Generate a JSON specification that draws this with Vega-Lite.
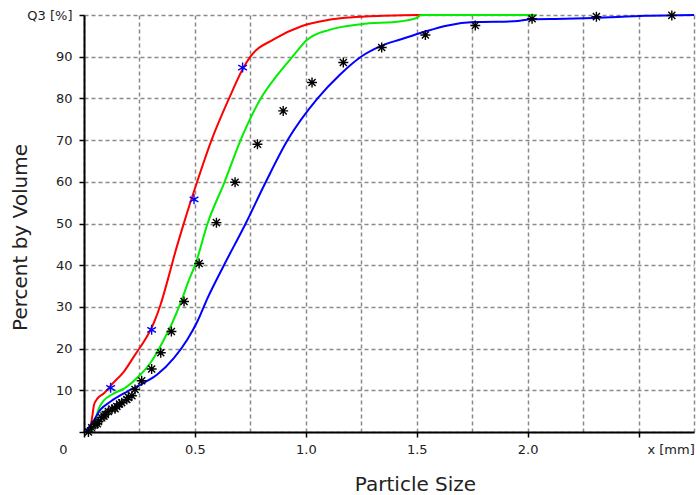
{
  "$schema": "https://vega.github.io/schema/vega-lite/v6.json",
  "width": 610,
  "height": 417,
  "autosize": "none",
  "padding": {"left": 84, "top": 15, "right": 2, "bottom": 63},
  "background": "white",
  "config": {"view": {"stroke": null}, "font": "DejaVu Sans"},
  "datasets": {
    "curves": [
      {"series": "red", "size": 0.015, "q": 0}, {"series": "red", "size": 0.03, "q": 1.5}, {"series": "red", "size": 0.038, "q": 4}, {"series": "red", "size": 0.045, "q": 6.5}, {"series": "red", "size": 0.06, "q": 8}, {"series": "red", "size": 0.09, "q": 9.3}, {"series": "red", "size": 0.127, "q": 11.5}, {"series": "red", "size": 0.18, "q": 14.5}, {"series": "red", "size": 0.23, "q": 18.5}, {"series": "red", "size": 0.285, "q": 23}, {"series": "red", "size": 0.315, "q": 26.2}, {"series": "red", "size": 0.345, "q": 30.5}, {"series": "red", "size": 0.375, "q": 36}, {"series": "red", "size": 0.406, "q": 42.1}, {"series": "red", "size": 0.451, "q": 50.2}, {"series": "red", "size": 0.51, "q": 60}, {"series": "red", "size": 0.575, "q": 70}, {"series": "red", "size": 0.654, "q": 80}, {"series": "red", "size": 0.715, "q": 87}, {"series": "red", "size": 0.75, "q": 90}, {"series": "red", "size": 0.857, "q": 94.2}, {"series": "red", "size": 0.98, "q": 97.3}, {"series": "red", "size": 1.1, "q": 98.8}, {"series": "red", "size": 1.2, "q": 99.4}, {"series": "red", "size": 1.35, "q": 99.8}, {"series": "red", "size": 1.5, "q": 100}, {"series": "red", "size": 2.04, "q": 100},
      {"series": "green", "size": 0.03, "q": 0}, {"series": "green", "size": 0.043, "q": 1.3}, {"series": "green", "size": 0.055, "q": 3.5}, {"series": "green", "size": 0.065, "q": 5.4}, {"series": "green", "size": 0.088, "q": 7.5}, {"series": "green", "size": 0.126, "q": 9}, {"series": "green", "size": 0.186, "q": 10.6}, {"series": "green", "size": 0.246, "q": 13.3}, {"series": "green", "size": 0.3, "q": 16.6}, {"series": "green", "size": 0.353, "q": 21.4}, {"series": "green", "size": 0.398, "q": 26.2}, {"series": "green", "size": 0.436, "q": 31}, {"series": "green", "size": 0.47, "q": 36}, {"series": "green", "size": 0.504, "q": 40.5}, {"series": "green", "size": 0.557, "q": 50}, {"series": "green", "size": 0.634, "q": 60}, {"series": "green", "size": 0.706, "q": 70}, {"series": "green", "size": 0.797, "q": 80}, {"series": "green", "size": 0.87, "q": 85.5}, {"series": "green", "size": 0.94, "q": 90}, {"series": "green", "size": 1.005, "q": 94}, {"series": "green", "size": 1.11, "q": 96.5}, {"series": "green", "size": 1.25, "q": 97.8}, {"series": "green", "size": 1.43, "q": 98.5}, {"series": "green", "size": 1.5, "q": 99.3}, {"series": "green", "size": 1.52, "q": 100}, {"series": "green", "size": 2.04, "q": 100},
      {"series": "blue", "size": 0.005, "q": 0}, {"series": "blue", "size": 0.037, "q": 2.2}, {"series": "blue", "size": 0.075, "q": 5.4}, {"series": "blue", "size": 0.12, "q": 7.3}, {"series": "blue", "size": 0.195, "q": 9.7}, {"series": "blue", "size": 0.27, "q": 11.8}, {"series": "blue", "size": 0.33, "q": 13.8}, {"series": "blue", "size": 0.406, "q": 17.8}, {"series": "blue", "size": 0.466, "q": 22.2}, {"series": "blue", "size": 0.511, "q": 26.5}, {"series": "blue", "size": 0.556, "q": 32}, {"series": "blue", "size": 0.631, "q": 40}, {"series": "blue", "size": 0.729, "q": 50}, {"series": "blue", "size": 0.82, "q": 60}, {"series": "blue", "size": 0.918, "q": 70}, {"series": "blue", "size": 1.053, "q": 80}, {"series": "blue", "size": 1.15, "q": 85.5}, {"series": "blue", "size": 1.249, "q": 90}, {"series": "blue", "size": 1.34, "q": 92.6}, {"series": "blue", "size": 1.43, "q": 94.2}, {"series": "blue", "size": 1.535, "q": 96}, {"series": "blue", "size": 1.64, "q": 97.5}, {"series": "blue", "size": 1.76, "q": 98.3}, {"series": "blue", "size": 1.94, "q": 98.5}, {"series": "blue", "size": 2.02, "q": 99}, {"series": "blue", "size": 2.17, "q": 99.1}, {"series": "blue", "size": 2.3, "q": 99.3}, {"series": "blue", "size": 2.53, "q": 99.8}, {"series": "blue", "size": 2.75, "q": 100}
    ],
    "stars": [
      {"set": "ref", "size": 0.12, "q": 10.6}, {"set": "ref", "size": 0.305, "q": 24.5}, {"set": "ref", "size": 0.496, "q": 55.8}, {"set": "ref", "size": 0.715, "q": 87.4},
      {"set": "meas", "size": 0.02, "q": 0}, {"set": "meas", "size": 0.035, "q": 1}, {"set": "meas", "size": 0.05, "q": 1.8}, {"set": "meas", "size": 0.06, "q": 2.0}, {"set": "meas", "size": 0.065, "q": 2.5}, {"set": "meas", "size": 0.08, "q": 3.4}, {"set": "meas", "size": 0.09, "q": 3.8}, {"set": "meas", "size": 0.096, "q": 4.2}, {"set": "meas", "size": 0.11, "q": 4.9}, {"set": "meas", "size": 0.126, "q": 5.5}, {"set": "meas", "size": 0.14, "q": 5.6}, {"set": "meas", "size": 0.148, "q": 6.1}, {"set": "meas", "size": 0.16, "q": 6.7}, {"set": "meas", "size": 0.17, "q": 7}, {"set": "meas", "size": 0.193, "q": 7.8}, {"set": "meas", "size": 0.2, "q": 8.3}, {"set": "meas", "size": 0.216, "q": 8.7}, {"set": "meas", "size": 0.23, "q": 10.2}, {"set": "meas", "size": 0.26, "q": 12.3}, {"set": "meas", "size": 0.305, "q": 15.1}, {"set": "meas", "size": 0.346, "q": 19}, {"set": "meas", "size": 0.394, "q": 24.1}, {"set": "meas", "size": 0.451, "q": 31.3}, {"set": "meas", "size": 0.519, "q": 40.4}, {"set": "meas", "size": 0.597, "q": 50.2}, {"set": "meas", "size": 0.681, "q": 59.9}, {"set": "meas", "size": 0.782, "q": 69}, {"set": "meas", "size": 0.898, "q": 77}, {"set": "meas", "size": 1.028, "q": 83.8}, {"set": "meas", "size": 1.169, "q": 88.6}, {"set": "meas", "size": 1.342, "q": 92.2}, {"set": "meas", "size": 1.539, "q": 95.2}, {"set": "meas", "size": 1.764, "q": 97.5}, {"set": "meas", "size": 2.02, "q": 99.1}, {"set": "meas", "size": 2.31, "q": 99.6}, {"set": "meas", "size": 2.65, "q": 99.9}
    ]
  },
  "encoding": {
    "x": {
      "field": "size", "type": "quantitative",
      "scale": {"domain": [0, 2.75], "nice": false, "zero": false},
      "axis": {
        "values": [0, 0.25, 0.5, 0.75, 1, 1.25, 1.5, 1.75, 2, 2.25, 2.5, 2.75],
        "title": "Particle Size", "titleFont": "DejaVu Sans", "titleFontSize": 20, "titleFontWeight": "normal", "titleColor": "#222",
        "titleX": 331, "titleY": 62, "titleBaseline": "bottom", "titleAlign": "center",
        "labelExpr": "datum.value==0 ? '0' : (abs(datum.value-2.5)<0.001 ? 'x [mm]' : (round(datum.value*4)%2==0 ? format(datum.value,'.1f') : ''))",
        "labelFontSize": 13, "labelColor": "#222", "labelFlush": false, "labelOverlap": false, "labelPadding": 6,
        "labelOffset": {"condition": [{"test": "datum.value==0", "value": -21}, {"test": "abs(datum.value-2.5)<0.001", "value": 32}], "value": 0},
        "tickSize": {"condition": {"test": "round(datum.value*4)%2==1", "value": 0}, "value": 5},
        "tickColor": "black", "tickWidth": 1.5,
        "domainColor": "black", "domainWidth": 2,
        "grid": true, "gridDash": [4, 3], "gridColor": "#8a8a8a", "gridWidth": 1.5
      }
    },
    "y": {
      "field": "q", "type": "quantitative",
      "scale": {"domain": [0, 100], "nice": false},
      "axis": {
        "values": [0, 10, 20, 30, 40, 50, 60, 70, 80, 90, 100],
        "title": "Percent by Volume", "titleFont": "DejaVu Sans", "titleFontSize": 20, "titleFontWeight": "normal", "titleColor": "#222",
        "titleX": -58, "titleY": 222, "titleBaseline": "alphabetic", "titleAlign": "center", "titleAngle": -90,
        "labelExpr": "datum.value==0 ? '' : (datum.value==100 ? 'Q3 [%]' : datum.label)",
        "labelFontSize": 13, "labelColor": "#222", "labelPadding": 7, "labelOverlap": false, "labelFlush": false,
        "tickSize": 5, "tickColor": "black", "tickWidth": 1.5,
        "domainColor": "black", "domainWidth": 2,
        "grid": true, "gridDash": [4, 3], "gridColor": "#8a8a8a", "gridWidth": 1.5
      }
    }
  },
  "layer": [
    {
      "data": {"name": "curves"},
      "mark": {"type": "line", "strokeWidth": 2, "interpolate": "monotone"},
      "encoding": {
        "color": {"field": "series", "type": "nominal", "scale": {"domain": ["red", "green", "blue"], "range": ["#ff0000", "#00ee00", "#0000ff"]}, "legend": null}
      }
    },
    {
      "data": {"name": "stars"},
      "mark": {"type": "point", "filled": false, "strokeWidth": 1.4, "opacity": 1},
      "encoding": {
        "shape": {"field": "set", "type": "nominal", "scale": {"domain": ["ref", "meas"], "range": ["M0,-1L0,1M-0.87,-0.5L0.87,0.5M-0.87,0.5L0.87,-0.5", "M0,-1L0,1M-1,0L1,0M-0.71,-0.71L0.71,0.71M-0.71,0.71L0.71,-0.71"]}, "legend": null},
        "stroke": {"field": "set", "type": "nominal", "scale": {"domain": ["ref", "meas"], "range": ["#0000ff", "#000000"]}, "legend": null},
        "size": {"value": 100}
      }
    }
  ]
}
